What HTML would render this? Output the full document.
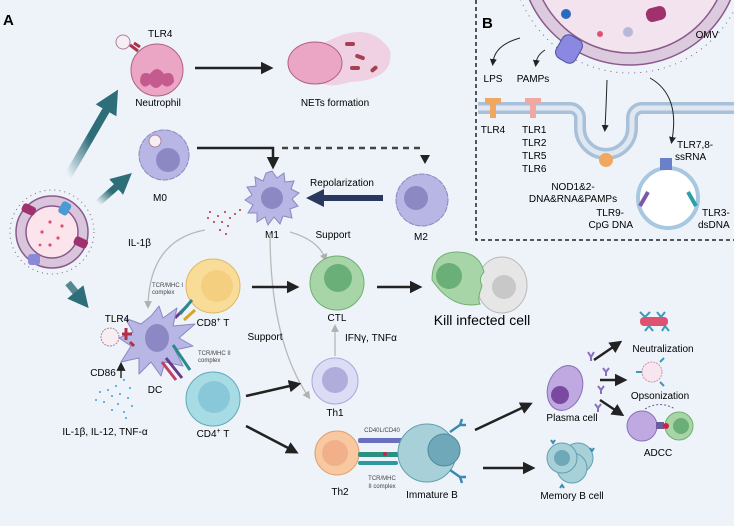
<!DOCTYPE html>
<html><head><meta charset="utf-8"><style>
html,body{margin:0;padding:0;background:#eef3fa;}
svg{display:block;font-family:"Liberation Sans",sans-serif;}
</style></head><body>
<svg width="734" height="526" viewBox="0 0 734 526" xmlns="http://www.w3.org/2000/svg">
<defs>
<marker id="at" markerWidth="3" markerHeight="3" refX="1.5" refY="1.5" orient="auto" markerUnits="strokeWidth"><path d="M0,0 L3,1.5 L0,3z" fill="#2e6e78"/></marker>
<marker id="an" markerWidth="3" markerHeight="3" refX="1.5" refY="1.5" orient="auto" markerUnits="strokeWidth"><path d="M0,0 L3,1.5 L0,3z" fill="#2a3860"/></marker>
<marker id="ag" markerWidth="6" markerHeight="6" refX="3" refY="3" orient="auto" markerUnits="strokeWidth"><path d="M0,0 L6,3 L0,6z" fill="#b0b0b0"/></marker>
<marker id="ak" markerWidth="5" markerHeight="5" refX="2" refY="2.5" orient="auto" markerUnits="strokeWidth"><path d="M0,0 L5,2.5 L0,5z" fill="#222"/></marker>
<marker id="ak1" markerWidth="7" markerHeight="7" refX="3" refY="3.5" orient="auto" markerUnits="strokeWidth"><path d="M0,0 L7,3.5 L0,7z" fill="#222"/></marker>
<linearGradient id="gt1" x1="0" y1="1" x2="1" y2="0"><stop offset="0" stop-color="#eef3fa"/><stop offset="0.5" stop-color="#2e6e78"/></linearGradient>
</defs>

<text x="3" y="25" font-size="15" font-weight="bold">A</text>

<!-- OMV left -->
<circle cx="52" cy="232" r="42" fill="none" stroke="#8a5a8a" stroke-width="1" stroke-dasharray="1 4"/>
<circle cx="52" cy="232" r="36" fill="#d9c6dc" stroke="#8a5a8a" stroke-width="1.5"/>
<circle cx="52" cy="232" r="26" fill="#fbe4ec" stroke="#8a5a8a" stroke-width="1.5"/>
<g fill="#e0506e"><circle cx="50" cy="222" r="1.6"/><circle cx="42" cy="232" r="1.6"/><circle cx="58" cy="238" r="1.6"/><circle cx="50" cy="245" r="1.6"/><circle cx="62" cy="226" r="1.6"/><circle cx="40" cy="245" r="1.4"/></g>
<rect x="22" y="205" width="14" height="9" rx="3" fill="#a0306e" transform="rotate(25 29 209)"/>
<rect x="60" y="202" width="10" height="13" rx="3" fill="#4a9ad4" transform="rotate(30 65 208)"/>
<rect x="74" y="238" width="14" height="9" rx="3" fill="#a0306e" transform="rotate(25 81 242)"/>
<rect x="28" y="254" width="12" height="11" rx="3" fill="#8a88d8"/>

<!-- teal arrows -->
<line x1="68" y1="176" x2="112" y2="100" stroke="url(#gt1)" stroke-width="8" marker-end="url(#at)"/>
<line x1="98" y1="203" x2="124" y2="180" stroke="url(#gt1)" stroke-width="7" marker-end="url(#at)"/>
<line x1="68" y1="283" x2="82" y2="300" stroke="#2e6e78" stroke-opacity="0.8" stroke-width="7" marker-end="url(#at)"/>

<!-- Neutrophil -->
<circle cx="157" cy="70" r="26" fill="#eba6c6" stroke="#b2607e"/>
<path d="M140 82 q0-12 10-8 q7-10 14 0 q10-4 10 8 q-6 8-12 2 q-6 8-12 0 q-6 6-10-2z" fill="#c55a8e"/>
<circle cx="123" cy="42" r="7" fill="#f7eef3" stroke="#b080a0"/>
<path d="M130 45 l8 6 m-4-8 l6 4" stroke="#b0304a" stroke-width="3"/>
<text x="148" y="37" font-size="10">TLR4</text>
<text x="158" y="106" font-size="10" text-anchor="middle">Neutrophil</text>
<line x1="195" y1="68" x2="266" y2="68" stroke="#222" stroke-width="2.5" marker-end="url(#ak)"/>

<!-- NETs -->
<path d="M330 40 q40-20 60 10 q5 30-40 32 q-30 10-40-10 q-5-22 20-32z" fill="#f0c2d8" opacity="0.7"/>
<ellipse cx="315" cy="63" rx="27" ry="21" fill="#eba6c6" stroke="#b2607e"/>
<g fill="#a64050"><rect x="345" y="42" width="10" height="4" rx="2"/><rect x="355" y="55" width="10" height="4" rx="2" transform="rotate(20 360 57)"/><rect x="350" y="66" width="10" height="4" rx="2"/><rect x="370" y="67" width="8" height="4" rx="2" transform="rotate(-40 374 69)"/></g>
<text x="335" y="106" font-size="10" text-anchor="middle">NETs formation</text>

<!-- M0 -->
<circle cx="164" cy="155" r="25" fill="#b8b6e4" stroke="#8a88c0" stroke-dasharray="6 1"/>
<circle cx="168" cy="160" r="12" fill="#8c88c4"/>
<circle cx="155" cy="141" r="6" fill="#f7eef3" stroke="#b080a0"/>
<text x="160" y="201" font-size="10" text-anchor="middle">M0</text>
<polyline points="197,148 273,148 273,162" fill="none" stroke="#222" stroke-width="2.5" marker-end="url(#ak)"/>
<line x1="282" y1="148" x2="425" y2="148" stroke="#444" stroke-width="2.5" stroke-dasharray="6 5"/>
<path d="M420 155 l10 0 l-5 9z" fill="#222"/>

<!-- M1 -->
<g transform="translate(272,198)">
<polygon points="0,-27 5,-20 12,-25 13,-16 22,-17 19,-9 27,-5 20,1 26,8 18,11 20,20 11,18 8,26 2,19 -4,27 -7,19 -15,24 -15,15 -24,15 -19,7 -27,2 -20,-3 -25,-11 -16,-12 -17,-21 -9,-17 -6,-25" fill="#b8b6e4" stroke="#8a88c0"/>
<circle cx="0" cy="0" r="11" fill="#8c88c4"/></g>
<text x="272" y="238" font-size="10" text-anchor="middle">M1</text>
<text x="342" y="186" font-size="10" text-anchor="middle">Repolarization</text>
<line x1="383" y1="198" x2="315" y2="198" stroke="#2a3860" stroke-width="6" marker-end="url(#an)"/>
<!-- M2 -->
<circle cx="422" cy="200" r="26" fill="#b8b6e4" stroke="#8a88c0" stroke-dasharray="6 1"/>
<circle cx="416" cy="198" r="12" fill="#8c88c4"/>
<text x="421" y="240" font-size="10" text-anchor="middle">M2</text>

<!-- IL-1b dots -->
<g fill="#b03040"><circle cx="210" cy="212" r="1"/><circle cx="218" cy="216" r="1"/><circle cx="225" cy="212" r="1"/><circle cx="230" cy="218" r="1"/><circle cx="222" cy="222" r="1"/><circle cx="214" cy="222" r="1"/><circle cx="228" cy="226" r="1"/><circle cx="235" cy="214" r="1"/><circle cx="220" cy="230" r="1"/><circle cx="240" cy="210" r="1"/><circle cx="208" cy="218" r="1"/><circle cx="226" cy="234" r="1"/></g>
<text x="128" y="246" font-size="10">IL-1β</text>
<path d="M205 230 Q150 240 148 305" fill="none" stroke="#b8b8b8" stroke-width="1.3" marker-end="url(#ag)"/>
<text x="333" y="238" font-size="10" text-anchor="middle">Support</text>
<path d="M290 232 Q318 240 325 258" fill="none" stroke="#b8b8b8" stroke-width="1.3" marker-end="url(#ag)"/>
<path d="M270 232 Q270 340 308 396" fill="none" stroke="#b8b8b8" stroke-width="1.3" marker-end="url(#ag)"/>
<text x="265" y="340" font-size="10" text-anchor="middle">Support</text>
<line x1="335" y1="356" x2="335" y2="328" stroke="#b8b8b8" stroke-width="1.3" marker-end="url(#ag)"/>
<text x="345" y="341" font-size="10">IFNγ, TNFα</text>

<!-- CD8 -->
<circle cx="213" cy="286" r="27" fill="#f8dc98" stroke="#e0b860"/>
<circle cx="217" cy="286" r="16" fill="#f5cf80"/>
<text x="213" y="326" font-size="10" text-anchor="middle">CD8<tspan font-size="7" dy="-4">+</tspan><tspan dy="4"> T</tspan></text>
<text x="152" y="287" font-size="6" fill="#444">TCR/MHC I</text><text x="152" y="294" font-size="6" fill="#444">complex</text>
<g stroke-width="3"><line x1="175" y1="318" x2="188" y2="305" stroke="#6a3a8a"/><line x1="180" y1="314" x2="192" y2="300" stroke="#2a8a8a"/><line x1="184" y1="320" x2="195" y2="310" stroke="#e0a020"/></g>

<!-- DC -->
<g transform="translate(155,340)">
<polygon points="-4,-24 4,-34 8,-22 22,-32 18,-14 40,-16 24,-2 38,6 20,10 28,26 10,22 6,36 -4,22 -16,34 -16,18 -34,22 -24,6 -36,-2 -22,-8 -30,-22 -14,-16" fill="#b8b6e4" stroke="#8a88c0" stroke-linejoin="round"/>
<ellipse cx="2" cy="-2" rx="12" ry="14" fill="#8c88c4"/></g>
<circle cx="110" cy="337" r="9" fill="#f7eef3" stroke="#b080a0" stroke-dasharray="2 1"/>
<path d="M122 334 h10 m-6-6 v12 m4 2 l4 4" stroke="#b0304a" stroke-width="3"/>
<text x="117" y="322" font-size="10" text-anchor="middle">TLR4</text>
<text x="103" y="376" font-size="10" text-anchor="middle">CD86</text>
<line x1="121" y1="378" x2="121" y2="367" stroke="#111" stroke-width="1.3" marker-end="url(#ak1)"/>
<text x="155" y="393" font-size="10" text-anchor="middle">DC</text>
<g fill="#3aa0d8"><circle cx="100" cy="392" r="1"/><circle cx="108" cy="390" r="1"/><circle cx="116" cy="386" r="1"/><circle cx="124" cy="380" r="1"/><circle cx="112" cy="396" r="1"/><circle cx="120" cy="394" r="1"/><circle cx="130" cy="388" r="1"/><circle cx="104" cy="402" r="1"/><circle cx="118" cy="404" r="1"/><circle cx="128" cy="398" r="1"/><circle cx="112" cy="410" r="1"/><circle cx="124" cy="412" r="1"/><circle cx="132" cy="406" r="1"/><circle cx="96" cy="400" r="1"/><circle cx="126" cy="418" r="1"/></g>
<text x="105" y="435" font-size="10" text-anchor="middle">IL-1β, IL-12, TNF-α</text>

<!-- CD4 -->
<circle cx="213" cy="399" r="27" fill="#a8dce4" stroke="#60a8b8"/>
<circle cx="214" cy="397" r="16" fill="#88c8d8"/>
<text x="213" y="437" font-size="10" text-anchor="middle">CD4<tspan font-size="7" dy="-4">+</tspan><tspan dy="4"> T</tspan></text>
<text x="198" y="355" font-size="6" fill="#444">TCR/MHC II</text><text x="198" y="362" font-size="6" fill="#444">complex</text>
<g stroke-width="3"><line x1="173" y1="345" x2="190" y2="370" stroke="#2a8a8a"/><line x1="166" y1="358" x2="182" y2="378" stroke="#6a3a8a"/><line x1="162" y1="362" x2="176" y2="380" stroke="#c0406a"/></g>

<line x1="252" y1="287" x2="292" y2="287" stroke="#222" stroke-width="2.5" marker-end="url(#ak)"/>
<!-- CTL -->
<circle cx="337" cy="283" r="27" fill="#a8d5a8" stroke="#70b070"/>
<circle cx="338" cy="278" r="14" fill="#6aaf78"/>
<text x="337" y="321" font-size="10" text-anchor="middle">CTL</text>
<line x1="377" y1="287" x2="415" y2="287" stroke="#222" stroke-width="2.5" marker-end="url(#ak)"/>
<!-- Kill -->
<ellipse cx="502" cy="285" rx="25" ry="28" fill="#e6e6e6" stroke="#b8b8b8"/>
<circle cx="504" cy="287" r="12" fill="#c8c8c8"/>
<path d="M432 280 q0-28 25-28 q22 0 27 20 q-6 6 -2 14 q-5 12 -2 18 q-28 6-48-24z" fill="#a8d5a8" stroke="#70b070"/>
<circle cx="449" cy="276" r="13" fill="#6aaf78"/>
<text x="482" y="325" font-size="14" text-anchor="middle">Kill infected cell</text>

<!-- Th1 -->
<line x1="246" y1="396" x2="294" y2="385" stroke="#222" stroke-width="2.5" marker-end="url(#ak)"/>
<circle cx="335" cy="381" r="23" fill="#dcdcf4" stroke="#a8a8d8"/>
<circle cx="335" cy="380" r="13" fill="#b0acdc"/>
<text x="335" y="416" font-size="10" text-anchor="middle">Th1</text>

<!-- Th2 -->
<line x1="246" y1="426" x2="292" y2="450" stroke="#222" stroke-width="2.5" marker-end="url(#ak)"/>
<circle cx="337" cy="453" r="22" fill="#f8c8a0" stroke="#e0a070"/>
<circle cx="335" cy="453" r="13" fill="#f2b08a"/>
<text x="340" y="495" font-size="10" text-anchor="middle">Th2</text>
<text x="382" y="432" font-size="6" fill="#444" text-anchor="middle">CD40L/CD40</text>
<rect x="358" y="438" width="50" height="5" rx="2" fill="#6a70c0"/>
<rect x="358" y="452" width="45" height="5" rx="2" fill="#2a9080"/>
<rect x="358" y="461" width="40" height="4" rx="2" fill="#2a9aa0"/>
<circle cx="385" cy="454" r="2" fill="#d02040"/>
<text x="382" y="480" font-size="6" fill="#444" text-anchor="middle">TCR/MHC</text>
<text x="382" y="488" font-size="6" fill="#444" text-anchor="middle">II complex</text>
<circle cx="427" cy="453" r="29" fill="#a8d0d8" stroke="#60a0b0"/>
<circle cx="444" cy="450" r="16" fill="#6fa8b8" stroke="#508898"/>
<path d="M450 432 l10 -7 m0 0 l2 -6 m-2 6 l6 0 M450 470 l10 7 m0 0 l6 0 m-6 0 l2 6" stroke="#3a8ab0" stroke-width="2.5" fill="none"/>
<text x="432" y="498" font-size="10" text-anchor="middle">Immature B</text>

<line x1="475" y1="430" x2="526" y2="406" stroke="#222" stroke-width="2.5" marker-end="url(#ak)"/>
<line x1="483" y1="468" x2="528" y2="468" stroke="#222" stroke-width="2.5" marker-end="url(#ak)"/>

<!-- plasma -->
<ellipse cx="565" cy="388" rx="17" ry="23" fill="#c0a8e0" stroke="#8a70b8" transform="rotate(20 565 388)"/>
<circle cx="560" cy="395" r="9" fill="#7a4aa0"/>
<text x="572" y="421" font-size="10" text-anchor="middle">Plasma cell</text>
<line x1="594" y1="360" x2="616" y2="345" stroke="#222" stroke-width="2.5" marker-end="url(#ak)"/>
<line x1="600" y1="380" x2="620" y2="380" stroke="#222" stroke-width="2.5" marker-end="url(#ak)"/>
<line x1="600" y1="400" x2="618" y2="412" stroke="#222" stroke-width="2.5" marker-end="url(#ak)"/>
<g stroke="#8a70c0" stroke-width="2" fill="none"><path d="M588 352 l3 5 l3-5 M591 357 v4"/><path d="M603 368 l3 4 l3-4 M606 372 v4"/><path d="M598 386 l3 4 l3-4 M601 390 v4"/><path d="M595 404 l3 4 l3-4 M598 408 v4"/></g>
<!-- neutralization -->
<rect x="640" y="317" width="28" height="9" rx="4" fill="#e05070"/>
<g stroke="#3a9ab8" stroke-width="2" fill="none"><path d="M640 312 l5 5 l5-5 M657 312 l4 5 l4-5 M645 331 l4-5 l4 5 M662 331 l3-5 l4 5"/></g>
<text x="663" y="352" font-size="10" text-anchor="middle">Neutralization</text>
<circle cx="652" cy="372" r="10" fill="#f7e6ee" stroke="#d090b0" stroke-dasharray="2 1"/>
<g stroke="#3a9ab8" stroke-width="2" fill="none"><path d="M636 372 h6 M660 362 l4-4 M660 382 l4 4"/></g>
<text x="660" y="399" font-size="10" text-anchor="middle">Opsonization</text>
<circle cx="642" cy="426" r="15" fill="#c0a8e0" stroke="#8a70c0"/>
<circle cx="679" cy="426" r="14" fill="#a8d5a8" stroke="#70b070"/>
<circle cx="681" cy="426" r="8" fill="#6aaf78"/>
<rect x="656" y="422" width="8" height="7" fill="#6a5aa0"/><circle cx="666" cy="426" r="3" fill="#d02040"/>
<path d="M645 409 Q660 400 675 409" stroke="#6a5aa0" fill="none" stroke-dasharray="2 2"/>
<text x="658" y="456" font-size="10" text-anchor="middle">ADCC</text>
<!-- memory B -->
<circle cx="578" cy="458" r="15" fill="#a8d0d8" stroke="#60a0b0"/>
<circle cx="572" cy="468" r="15" fill="#a8d0d8" stroke="#60a0b0"/>
<circle cx="562" cy="458" r="15" fill="#a8d0d8" stroke="#60a0b0"/>
<circle cx="562" cy="458" r="8" fill="#6fa8b8"/>
<g stroke="#3a8ab0" stroke-width="2" fill="none"><path d="M551 440 l2 3 l2-3 M590 448 l2 3 l2-3 M560 488 l2-3 l2 3"/></g>
<text x="572" y="499" font-size="10" text-anchor="middle">Memory B cell</text>

<!-- Panel B -->
<path d="M476 0 V240 H734" fill="none" stroke="#222" stroke-width="1.5" stroke-dasharray="4 3"/>
<text x="482" y="28" font-size="15" font-weight="bold">B</text>
<circle cx="630" cy="-45" r="118" fill="none" stroke="#8a5a8a" stroke-width="1" stroke-dasharray="1 5"/>
<circle cx="630" cy="-45" r="110" fill="#dccadf" stroke="#8a5a8a" stroke-width="1.5"/>
<circle cx="630" cy="-45" r="98" fill="#f3e3ee" stroke="#8a5a8a" stroke-width="1.5"/>
<rect x="558" y="36" width="22" height="26" rx="7" fill="#8a88e0" stroke="#5050a0" transform="rotate(30 569 49)"/>
<rect x="646" y="7" width="20" height="14" rx="6" fill="#a0306e" transform="rotate(-15 656 14)"/>
<circle cx="566" cy="14" r="5" fill="#2a6ac0"/>
<circle cx="600" cy="34" r="3" fill="#e05070"/>
<circle cx="628" cy="32" r="5" fill="#b8b8d8"/>
<text x="707" y="38" font-size="10" text-anchor="middle">OMV</text>
<!-- membrane -->
<path d="M478 108 H570 a10 10 0 0 1 10 10 v10 a26 26 0 0 0 52 0 v-10 a10 10 0 0 1 10 -10 H734" fill="none" stroke="#a8c0d8" stroke-width="12"/>
<path d="M478 108 H570 a10 10 0 0 1 10 10 v10 a26 26 0 0 0 52 0 v-10 a10 10 0 0 1 10 -10 H734" fill="none" stroke="#dfe8f2" stroke-width="5"/>
<path d="M520 38 Q495 45 493 62" fill="none" stroke="#222" marker-end="url(#ak1)"/>
<path d="M545 50 Q537 55 536 63" fill="none" stroke="#222" marker-end="url(#ak1)"/>
<path d="M607 80 Q606 110 605 128" fill="none" stroke="#222" marker-end="url(#ak1)"/>
<path d="M650 78 Q680 95 672 140" fill="none" stroke="#222" marker-end="url(#ak1)"/>
<text x="493" y="82" font-size="10" text-anchor="middle">LPS</text>
<text x="533" y="82" font-size="10" text-anchor="middle">PAMPs</text>
<path d="M485 98 h16 v6 h-5 v14 h-6 v-14 h-5z" fill="#f0a860"/>
<path d="M525 98 h16 v6 h-5 v14 h-6 v-14 h-5z" fill="#f0a8a0"/>
<text x="493" y="133" font-size="10" text-anchor="middle">TLR4</text>
<text x="522" y="133" font-size="10">TLR1</text><text x="522" y="146" font-size="10">TLR2</text><text x="522" y="159" font-size="10">TLR5</text><text x="522" y="172" font-size="10">TLR6</text>
<circle cx="606" cy="160" r="7" fill="#f0a860"/>
<text x="573" y="190" font-size="10" text-anchor="middle">NOD1&amp;2-</text>
<text x="573" y="202" font-size="10" text-anchor="middle">DNA&amp;RNA&amp;PAMPs</text>
<circle cx="668" cy="198" r="30" fill="#fff" stroke="#a8c8e0" stroke-width="4"/>
<path d="M660 158 h12 v12 h-12z" fill="#6a80c8"/>
<path d="M648 192 l-8 14" stroke="#7a5aa8" stroke-width="4"/>
<path d="M688 192 l8 14" stroke="#2aa0a8" stroke-width="4"/>
<text x="677" y="148" font-size="10">TLR7,8-</text>
<text x="675" y="160" font-size="10">ssRNA</text>
<text x="624" y="216" font-size="10" text-anchor="end">TLR9-</text>
<text x="633" y="228" font-size="10" text-anchor="end">CpG DNA</text>
<text x="702" y="216" font-size="10">TLR3-</text>
<text x="698" y="228" font-size="10">dsDNA</text>
</svg>
</body></html>
